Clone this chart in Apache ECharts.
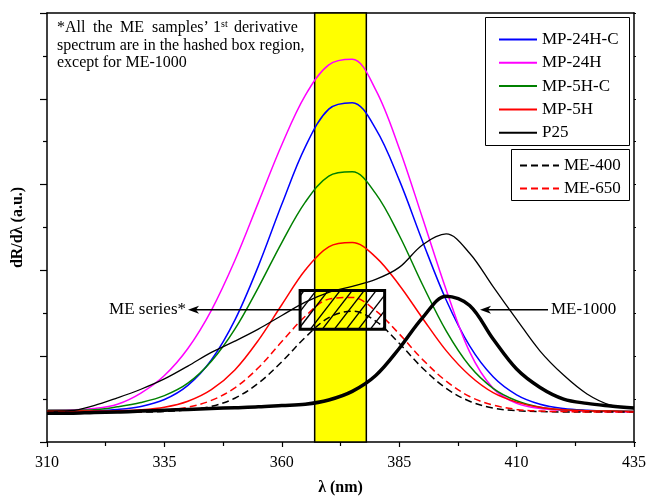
<!DOCTYPE html>
<html>
<head>
<meta charset="utf-8">
<script src="https://cdn.jsdelivr.net/npm/echarts@6/dist/echarts.min.js"></script>
<style>
html,body{margin:0;padding:0;background:#fff;}
#c{width:649px;height:501px;}
</style>
</head>
<body>
<div id="c"></div>
<script>
// ---- data ----
const wavelengths = [310,315,320,325,330,335,340,345,350,355,360,365,370,375,380,385,390,395,400,405,410,415,420,425,430,435];
const mp24hc = [0.72,0.72,0.73,0.76,0.83,0.99,1.32,1.91,2.84,4.10,5.54,6.88,7.76,7.91,7.30,6.11,4.67,3.31,2.24,1.52,1.10,0.88,0.78,0.74,0.72,0.71];
const mp24h  = [0.74,0.75,0.78,0.88,1.14,1.55,2.18,3.07,4.23,5.58,6.93,8.08,8.79,8.92,8.21,6.85,5.21,3.55,2.10,1.25,0.90,0.78,0.74,0.72,0.71,0.70];
const mp5hc  = [0.74,0.74,0.75,0.82,0.92,1.08,1.37,1.88,2.63,3.60,4.65,5.59,6.20,6.30,5.79,4.82,3.66,2.59,1.77,1.25,0.96,0.81,0.75,0.73,0.72,0.71];
const mp5h   = [0.72,0.72,0.72,0.73,0.75,0.81,0.95,1.22,1.68,2.37,3.20,4.01,4.55,4.65,4.31,3.66,2.88,2.13,1.55,1.15,0.93,0.81,0.75,0.73,0.72,0.71];
const p25    = [0.72,0.73,0.85,1.03,1.23,1.47,1.77,2.09,2.35,2.63,2.95,3.26,3.49,3.63,3.79,4.07,4.60,4.85,4.40,3.62,2.86,2.12,1.56,1.12,0.86,0.78];
const me400  = [0.70,0.70,0.70,0.70,0.70,0.71,0.75,0.83,1.02,1.37,1.87,2.44,2.90,3.05,2.82,2.30,1.72,1.25,0.95,0.79,0.73,0.71,0.70,0.70,0.70,0.70];
const me650  = [0.70,0.70,0.70,0.70,0.71,0.74,0.81,0.97,1.26,1.73,2.34,2.93,3.33,3.37,3.06,2.52,1.92,1.42,1.06,0.86,0.76,0.72,0.71,0.70,0.70,0.70];
const me1000 = [0.67,0.67,0.69,0.70,0.72,0.74,0.76,0.78,0.80,0.82,0.85,0.88,0.98,1.18,1.55,2.18,2.90,3.40,3.18,2.40,1.70,1.27,1.00,0.90,0.84,0.79];
const xTicks = [310,335,360,385,410,435];
const bandRange = [367,378];           // yellow band (nm)
const hashBox = [363.9,381.9,2.63,3.53]; // x0,x1,y0,y1 in data units

const FONT = '"Liberation Serif","Times New Roman",serif';
const chart = echarts.init(document.getElementById('c'), null, {renderer:'canvas'});

function pts(arr){ return wavelengths.map((w,i)=>[w,arr[i]]); }
function line(name, arr, color, width, type, z){
  return {name, type:'line', data:pts(arr), smooth:0.35, symbol:'none', showSymbol:false,
    lineStyle:{color, width, type: type||'solid'}, itemStyle:{color}, z: z||3, silent:true};
}
const dash = [7,4];

chart.setOption({
  animation:false,
  backgroundColor:'#fff',
  grid:{left:47, right:13, top:13, bottom:58},
  xAxis:[{
    type:'value', min:310, max:435, interval:25,
    axisLine:{lineStyle:{color:'#000', width:1.5}},
    axisTick:{show:true, length:5, lineStyle:{color:'#000', width:1.2}},
    minorTick:{show:true, splitNumber:2, length:4, lineStyle:{color:'#000', width:1.2}},
    axisLabel:{color:'#000', fontFamily:FONT, fontSize:16, margin:13},
    splitLine:{show:false},
    name:'λ (nm)', nameLocation:'middle', nameGap:38,
    nameTextStyle:{color:'#000', fontFamily:FONT, fontSize:16, fontWeight:'bold'}
  },{
    type:'value', min:310, max:435, interval:25, position:'top',
    axisLine:{onZero:false, lineStyle:{color:'#000', width:1.5}},
    axisTick:{show:false}, axisLabel:{show:false}, splitLine:{show:false}
  }],
  yAxis:[{
    type:'value', min:0, max:10, interval:2,
    axisLine:{show:true, lineStyle:{color:'#000', width:1.5}},
    axisTick:{show:true, length:7, lineStyle:{color:'#000', width:1.2}},
    minorTick:{show:true, splitNumber:2, length:4, lineStyle:{color:'#000', width:1.2}},
    axisLabel:{show:false}, splitLine:{show:false},
    name:'dR/dλ (a.u.)', nameLocation:'middle', nameGap:21, nameRotate:90,
    nameTextStyle:{color:'#000', fontFamily:FONT, fontSize:16, fontWeight:'bold'}
  },{
    type:'value', min:0, max:10, interval:1, position:'right',
    axisLine:{show:true, lineStyle:{color:'#000', width:1.5}},
    axisTick:{show:true, length:2, lineStyle:{color:'#000', width:1}},
    axisLabel:{show:false}, splitLine:{show:false}
  }],
  legend:[{
    data:['MP-24H-C','MP-24H','MP-5H-C','MP-5H','P25'],
    orient:'vertical', left:498, top:31, itemWidth:38, itemHeight:15, itemGap:6.3,
    itemStyle:{opacity:0},
    padding:0, textStyle:{color:'#000', fontFamily:FONT, fontSize:17}, selectedMode:false
  },{
    data:['ME-400','ME-650'],
    orient:'vertical', left:519, top:157, itemWidth:39, itemHeight:15, itemGap:6,
    itemStyle:{opacity:0},
    padding:0, textStyle:{color:'#000', fontFamily:FONT, fontSize:17}, selectedMode:false
  }],
  series:[
    {type:'line', data:[], z:1, silent:true,
     markArea:{silent:true, itemStyle:{color:'#ffff00', borderColor:'#000', borderWidth:1.5},
       data:[[{xAxis:bandRange[0]},{xAxis:bandRange[1]}]]}},
    line('MP-24H-C', mp24hc, '#0000ff', 1.5),
    line('MP-24H', mp24h, '#ff00ff', 1.5),
    line('MP-5H-C', mp5hc, '#008000', 1.5),
    line('MP-5H', mp5h, '#ff0000', 1.5),
    line('P25', p25, '#000000', 1.3),
    line('ME-400', me400, '#000000', 1.5, dash),
    line('ME-650', me650, '#ff0000', 1.5, dash),
    line('ME-1000', me1000, '#000000', 3.5, 'solid', 4)
  ]
});

// ---- annotations (positions computed through the chart's scales) ----
const P = (x,y)=>chart.convertToPixel({gridIndex:0},[x,y]);
const g = [];
// legend frames
g.push({type:'rect', shape:{x:485.5,y:17.5,width:144,height:128}, style:{fill:'none',stroke:'#000',lineWidth:1}, z:10});
g.push({type:'rect', shape:{x:511.5,y:149.5,width:118,height:51}, style:{fill:'none',stroke:'#000',lineWidth:1}, z:10});
// hatched box
const a = P(hashBox[0],hashBox[3]), b = P(hashBox[1],hashBox[2]);
const bx0=a[0], by0=a[1], bx1=b[0], by1=b[1];
const H = by1-by0, s = 1.3, d = 12;
for(let c = bx0 - H/s + 4; c < bx1; c += d){
  let xs = c, ys = by1;
  if(xs < bx0){ ys = by1 - (bx0 - c)*s; xs = bx0; }
  let xe = c + H/s, ye = by0;
  if(xe > bx1){ ye = by1 - (bx1 - c)*s; xe = bx1; }
  if(ys <= ye) continue;
  g.push({type:'line', shape:{x1:xs,y1:ys,x2:xe,y2:ye}, style:{stroke:'#000',lineWidth:1.4}, z:11});
}
g.push({type:'rect', shape:{x:bx0,y:by0,width:bx1-bx0,height:by1-by0}, style:{fill:'none',stroke:'#000',lineWidth:3}, z:12});
// ME series arrow
const ay = (by0+by1)/2;
g.push({type:'line', shape:{x1:bx0,y1:ay,x2:192,y2:ay}, style:{stroke:'#000',lineWidth:1.5}, z:12});
g.push({type:'polygon', shape:{points:[[188,ay],[199,ay-4],[196,ay],[199,ay+4]]}, style:{fill:'#000'}, z:12});
g.push({type:'text', x:186, y:ay, style:{text:'ME series*', font:'17px '+FONT, fill:'#000', align:'right', verticalAlign:'middle'}, z:12});
// ME-1000 arrow
g.push({type:'line', shape:{x1:548,y1:ay,x2:484,y2:ay}, style:{stroke:'#000',lineWidth:1.5}, z:12});
g.push({type:'polygon', shape:{points:[[480,ay],[491,ay-4],[488,ay],[491,ay+4]]}, style:{fill:'#000'}, z:12});
g.push({type:'text', x:551, y:ay, style:{text:'ME-1000', font:'17px '+FONT, fill:'#000', align:'left', verticalAlign:'middle'}, z:12});
// note text (justified first line)
const words1 = [['*All',57],['the',93],['ME',120],['samples’',152],['derivative',234]];
words1.forEach(w=>g.push({type:'text', x:w[1], y:28, style:{text:w[0], font:'16px '+FONT, fill:'#000', verticalAlign:'middle'}, z:12}));
g.push({type:'text', x:213, y:28, style:{text:'1{s|st}', font:'16px '+FONT, fill:'#000', verticalAlign:'middle',
  rich:{s:{fontSize:10, fontFamily:FONT, verticalAlign:'top', padding:[0,0,8,0]}}}, z:12});
g.push({type:'text', x:57, y:46, style:{text:'spectrum are in the hashed box region,', font:'16px '+FONT, fill:'#000', verticalAlign:'middle'}, z:12});
g.push({type:'text', x:57, y:63, style:{text:'except for ME-1000', font:'16px '+FONT, fill:'#000', verticalAlign:'middle'}, z:12});
chart.setOption({graphic:g});
</script>
</body>
</html>
